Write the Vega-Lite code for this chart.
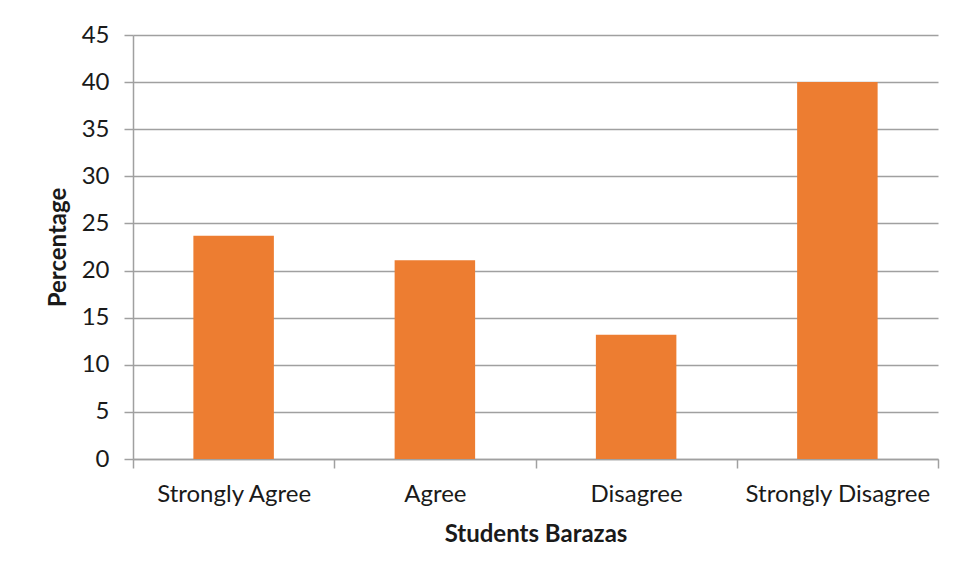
{
  "$schema": "https://vega.github.io/schema/vega-lite/v6.json",
  "width": 805,
  "height": 424,
  "autosize": "none",
  "padding": {"left": 133, "top": 35, "right": 17, "bottom": 119},
  "background": "white",
  "data": {
    "values": [
      {"response": "Strongly Agree", "percentage": 23.7},
      {"response": "Agree", "percentage": 21.1},
      {"response": "Disagree", "percentage": 13.2},
      {"response": "Strongly Disagree", "percentage": 40.0}
    ]
  },
  "mark": {"type": "bar", "color": "#ED7D31", "width": {"band": 0.4}},
  "encoding": {
    "x": {
      "field": "response",
      "type": "nominal",
      "sort": null,
      "title": "Students Barazas",
      "scale": {"paddingInner": 0, "paddingOuter": 0},
      "axis": {
        "labelAngle": 0,
        "labelLimit": 400,
        "labelOverlap": false,
        "tickBand": "extent",
        "tickSize": 9,
        "labelPadding": 14,
        "titlePadding": 16
      }
    },
    "y": {
      "field": "percentage",
      "type": "quantitative",
      "title": "Percentage",
      "scale": {"domain": [0, 45], "nice": false},
      "axis": {
        "values": [0, 5, 10, 15, 20, 25, 30, 35, 40, 45],
        "tickSize": 9,
        "labelPadding": 15,
        "titlePadding": 11,
        "grid": true
      }
    }
  },
  "config": {
    "view": {"stroke": null},
    "font": "Lato",
    "axis": {
      "labelFont": "Lato",
      "labelFontSize": 24,
      "labelColor": "#1a1a1a",
      "titleFont": "Lato",
      "titleFontSize": 24,
      "titleFontWeight": "bold",
      "titleColor": "#1a1a1a",
      "domainColor": "#a0a0a0",
      "domainWidth": 1.5,
      "tickColor": "#a0a0a0",
      "tickWidth": 1.5,
      "gridColor": "#a0a0a0",
      "gridWidth": 1.5,
      "gridOpacity": 1
    }
  }
}
